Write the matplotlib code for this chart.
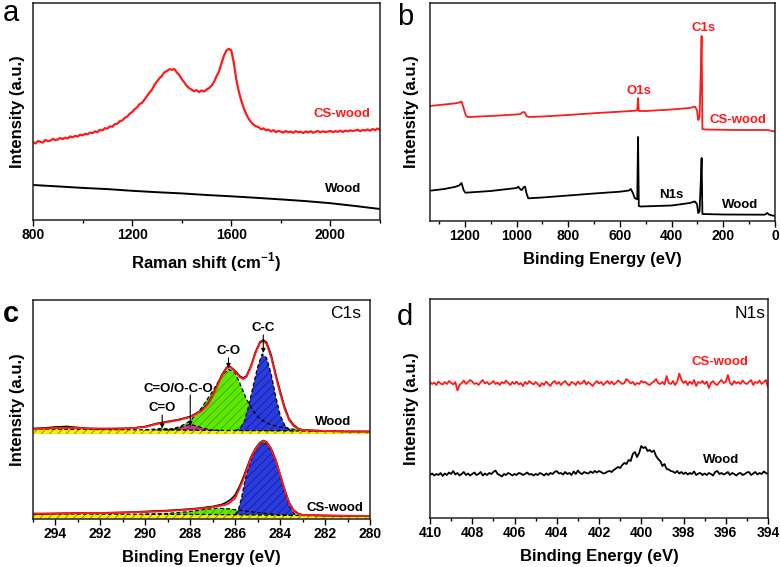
import numpy as np
import matplotlib.pyplot as plt
from matplotlib.ticker import MultipleLocator

plt.rcParams['font.family'] = ['Liberation Sans', 'DejaVu Sans']
plt.rcParams['font.weight'] = 'bold'
plt.rcParams['mathtext.fontset'] = 'custom'
plt.rcParams['mathtext.rm'] = 'Liberation Sans:bold'
plt.rcParams['mathtext.bf'] = 'Liberation Sans:bold'
plt.rcParams['hatch.linewidth'] = 0.5

RED = '#ff1a1a'

# ---------------- (a) Raman ----------------
raman_shift = np.arange(800, 2201, 10)
raman_cs_wood = [
    78.0, 76.5, 79.0, 78.2, 77.4, 80.1, 78.9, 79.3, 81.2, 79.8,
    80.6, 82.0, 80.9, 82.4, 81.5, 83.6, 82.7, 84.1, 83.4, 85.3,
    84.6, 86.2, 85.7, 87.4, 86.9, 88.6, 87.9, 90.2, 89.5, 91.8,
    91.4, 93.6, 93.2, 95.9, 96.3, 98.8, 99.5, 102.1, 103.4, 106.2,
    107.9, 110.8, 112.6, 115.9, 117.2, 120.4, 124.1, 127.5, 130.2, 135.1,
    138.4, 141.7, 144.2, 147.6, 148.9, 150.8, 150.2, 151.0, 147.6, 145.1,
    140.9, 137.8, 134.2, 131.9, 130.4, 128.7, 129.9, 127.8, 129.6, 128.4,
    130.5, 131.8, 134.2, 137.9, 143.6, 148.2, 156.4, 164.1, 169.3, 171.2,
    169.6, 157.5, 140.8, 128.9, 119.6, 112.0, 106.1, 101.3, 97.8, 95.4,
    93.6, 92.9, 90.8, 91.6, 89.7, 90.4, 88.6, 89.9, 87.8, 89.1,
    88.2, 87.4, 89.0, 87.6, 88.5, 87.2, 88.9, 87.7, 88.4, 86.9,
    88.6, 87.5, 88.8, 87.3, 88.1, 89.0, 87.6, 88.7, 87.9, 88.4,
    89.1, 87.8, 88.9, 88.2, 89.3, 88.0, 89.4, 88.6, 89.7, 88.9,
    89.5, 90.3, 88.8, 90.1, 89.4, 90.6, 89.2, 91.0, 89.8, 91.5,
    90.2,
]
raman_wood_x = [800, 900, 1000, 1100, 1200, 1300, 1400, 1500, 1600, 1700,
                1800, 1900, 2000, 2100, 2200]
raman_wood = [35.0, 33.6, 32.1, 30.9, 29.2, 27.8, 26.6, 25.0, 23.7, 22.2,
              20.6, 18.9, 16.8, 14.0, 11.0]

# ---------------- (b) XPS survey ----------------
survey_cs_x = [1335, 1280, 1240, 1222, 1213, 1205, 1197, 1190, 1100, 1000,
               985, 975, 968, 962, 955, 900, 800, 700, 600, 545,
               537, 533, 530, 527, 500, 400, 330, 310, 302, 297,
               292, 287, 284, 281, 270, 150, 30, 10, 0]
survey_cs = [115, 116.5, 117.5, 118.5, 119.5, 113, 106, 104, 105, 106.5,
             107, 109, 108.5, 105, 104, 104.5, 106, 107.8, 109.3, 110.2,
             110.5, 111, 123, 110, 110, 111.5, 113, 114.5, 111, 101,
             104, 150, 185, 92, 91.5, 91, 91, 90, 89.5]
survey_wood_x = [1335, 1280, 1240, 1222, 1213, 1205, 1198, 1100, 1000, 993,
                 985, 980, 972, 967, 962, 955, 900, 800, 700, 600,
                 565, 558, 550, 543, 536, 533, 530, 527, 520, 400,
                 330, 310, 302, 297, 292, 287, 284, 281, 200, 40,
                 30, 24, 10, 0]
survey_wood = [30.3, 32, 34, 35.5, 38, 31, 28.3, 30, 33, 34.3,
               31.5, 31, 34, 34.3, 28, 22.7, 23.5, 25.5, 27.5, 29.3,
               30.5, 32, 28, 23, 22, 22, 84, 15, 14.5, 15.5,
               18, 19.5, 17, 8, 9.5, 40, 63, 7, 6.5, 6.3,
               8, 6.5, 5.5, 5]

# ---------------- (c) C1s fitting ----------------
c1s_x = [295, 294.5, 294, 293.5, 293, 292.5, 292, 291, 290.5, 290,
         289.5, 289, 288.5, 288, 287.5, 287.2, 287, 286.8, 286.6, 286.4,
         286.3, 286.2, 286, 285.8, 285.65, 285.5, 285.3, 285.1, 284.9, 284.75,
         284.6, 284.4, 284.2, 284, 283.8, 283.6, 283.4, 283.2, 283, 282,
         281, 280]
c1s_wood_data = [90.5, 91, 92, 92.5, 91.5, 90.5, 90, 90.5, 91, 92.5,
                 95.5, 97.5, 99.5, 102.5, 108.5, 116, 124, 134, 144, 151,
                 153, 152, 148, 143, 141, 143, 153, 167, 177, 179,
                 176.5, 164, 145, 128, 112, 100, 94, 90.5, 89, 88,
                 87.5, 87.5]
c1s_wood_fit = [90, 90.5, 91, 91, 91, 90.5, 90.5, 90.5, 91, 92,
                95, 97, 99, 102, 108, 115, 123, 133, 143, 150,
                152.5, 151.5, 147, 142, 140, 142, 152, 166, 176, 178,
                175, 162, 143, 126, 110, 99, 93, 90, 89, 88,
                87.5, 87.5]
c1s_wood_base_x = [295, 292, 289, 286, 283, 280]
c1s_wood_base = [90, 89.5, 89, 88.5, 88, 87.5]
wood_cc_x = [286.0, 285.8, 285.6, 285.4, 285.2, 285.0, 284.8, 284.6, 284.4, 284.2,
             284.0, 283.8, 283.6, 283.4]
wood_cc = [88.5, 90, 97, 113, 133, 152, 165, 161, 145, 123,
           104, 94, 89.5, 88]
wood_co_x = [289.5, 289, 288.5, 288, 287.5, 287.0, 286.6, 286.3, 286.0, 285.8,
             285.5, 285.2, 284.9, 284.5, 284.0, 283.5, 283.0, 282.5]
wood_co = [89, 89.5, 92, 98, 111, 128, 143, 150, 146, 136,
           120, 108, 100, 95, 92, 90, 89, 88]
wood_oco_x = [289.0, 288.6, 288.3, 288.0, 287.7, 287.4, 287.0, 286.7]
wood_oco = [89, 90.5, 93, 94.5, 93, 90.5, 89, 88.5]
wood_c_o_x = [290.0, 289.6, 289.3, 289.0, 288.6]
wood_c_o = [89.2, 89.8, 90.6, 90.0, 89.0]

c1s_cs_data = [5, 5.2, 5.5, 5.7, 6, 6, 6, 6.5, 7, 7.5,
               8, 8.5, 9.2, 10, 11, 12, 12.5, 13.5, 14.5, 16.5,
               18, 19.5, 24, 33, 41, 50, 62, 70.5, 76.5, 78.5,
               77, 70.5, 59.5, 44.5, 29.5, 16.5, 9, 5.5, 4, 3.5,
               3, 3]
c1s_cs_fit = [5.5, 5.5, 5.5, 5.7, 5.8, 6, 6, 6.5, 6.8, 7,
              7.5, 8, 8.8, 9.5, 10.5, 11.3, 12, 12.8, 13.5, 14.5,
              15.5, 17, 21, 31, 39, 48, 61, 70, 76, 78,
              76.5, 70, 59, 44, 29, 16, 8.5, 5, 4, 3.5,
              3.2, 3]
c1s_cs_base_x = [295, 290, 287, 285, 283, 280]
c1s_cs_base = [5, 4.8, 4.5, 4, 3.5, 3]
cs_cc_x = [286.0, 285.86, 285.71, 285.56, 285.45, 285.34, 285.15, 284.95, 284.75, 284.55,
           284.35, 284.16, 284.0, 283.86, 283.7, 283.56, 283.4, 283.27]
cs_cc = [4.5, 9, 22, 39, 48, 56, 67, 74, 77, 74,
         66, 56, 42, 31, 20, 12, 6, 4]
cs_co_x = [290, 289, 288, 287.3, 286.8, 286.3, 285.8, 285.2, 284.6, 284.0, 283.5]
cs_co = [4.8, 5.6, 7.5, 9.8, 10.8, 10.2, 8.7, 7.0, 5.5, 4.2, 3.7]

# ---------------- (d) N1s ----------------
n1s_x = np.round(np.arange(410, 393.95, -0.1), 1)
n1s_cs_wood = [
    136, 134, 135.5, 133, 136.5, 134.5, 133.5, 136, 134, 137,
    135, 133.5, 136, 127.5, 133, 135, 137.5, 134, 136, 138,
    136.5, 134, 135, 133, 136, 138, 134.5, 136, 133.5, 135,
    137, 134, 135.5, 133, 136, 134.5, 137.5, 135, 133, 136,
    134, 136.5, 133.5, 135, 132, 136, 134, 137, 135, 133.5,
    136, 134, 131.5, 135, 133, 136.5, 134, 132, 135.5, 137,
    134, 136, 133, 135.5, 137, 134, 132.5, 136, 135, 133,
    136.5, 134, 135, 137.5, 133.5, 136, 134, 132, 135, 137,
    134.5, 136, 133, 135, 137, 134, 136.5, 133.5, 135, 137.5,
    136, 134, 135, 139, 137, 134.5, 136, 133, 135, 134,
    137, 135.5, 136, 134, 133, 135, 136.5, 139, 135, 134,
    136, 133.5, 142, 135, 134, 137, 133, 136, 144.5, 138,
    135, 137, 133, 136.5, 134, 138, 132, 136, 135, 137,
    134, 136.5, 130, 135, 137, 134, 133, 136, 138, 135,
    136, 143, 135, 133, 137, 134.5, 136, 134, 137.5, 135,
    134, 136, 138, 133, 136, 135, 137.5, 134, 136, 138,
    131,
]
n1s_wood = [
    43, 44.5, 42.5, 44, 43, 45, 42, 44.5, 43, 45.5,
    44, 47, 43.5, 45, 42.5, 44, 46, 43, 44.5, 42.5,
    44, 45.5, 43, 44, 46, 42.5, 44.5, 43, 45, 44,
    46, 47.5, 44, 43, 41.5, 44, 43, 45, 44, 42.5,
    44, 43, 45, 44.5, 43, 44, 45.5, 43.5, 44, 42.5,
    44, 43, 45, 44, 42.5, 44.5, 43, 45, 44, 46,
    47, 44.5, 45, 43.5, 46, 44, 45, 43, 46.5, 44,
    47.5, 45, 44, 46, 45, 44.5, 46.5, 45, 47, 45.5,
    47, 46, 44.5, 45, 46.5, 47, 46, 48, 49.5, 51,
    50, 53, 55, 54, 58, 57, 64, 66, 61, 65,
    72, 70, 71, 67, 68, 66, 67.5, 62, 59, 57,
    52, 54, 49, 48.5, 47, 46.5, 45, 47, 44.5, 46,
    44, 45.5, 43.5, 45, 44, 46.5, 43, 44.5, 45, 43,
    44.5, 43, 45, 44, 42.5, 46, 47, 44, 45, 43.5,
    44.5, 46, 43, 45, 44, 42.5, 44.5, 45, 43, 44,
    45.5, 46, 43, 44.5, 46, 43.5, 45, 44, 46.5, 45,
    44,
]


def box(l, t, r, b):
    return [l / 780, 1 - b / 567, (r - l) / 780, (b - t) / 567]


def style(ax, xlim, ylim, major, minor, xlabel, ylpad):
    ax.set_xlim(*xlim)
    ax.set_ylim(*ylim)
    ax.set_yticks([])
    ax.xaxis.set_major_locator(MultipleLocator(major))
    ax.xaxis.set_minor_locator(MultipleLocator(minor))
    ax.tick_params(axis='x', which='major', direction='out', length=4,
                   width=1, labelsize=10, pad=2)
    ax.tick_params(axis='x', which='minor', direction='out', length=2.5, width=1)
    for lab in ax.get_xticklabels():
        lab.set_fontweight('bold')
    for s in ax.spines.values():
        s.set_linewidth(1.1)
        s.set_color('#222222')
    ax.set_xlabel(xlabel, fontsize=12, fontweight='bold', labelpad=6)
    ax.set_ylabel('Intensity (a.u.)', fontsize=12, fontweight='bold', labelpad=ylpad)


fig = plt.figure(figsize=(7.8, 5.67), dpi=100)

# (a)
ax = fig.add_axes(box(33, 3, 380, 220))
ax.plot(raman_shift, raman_cs_wood, color=RED, lw=1.6)
ax.plot(raman_wood_x, raman_wood, color='black', lw=1.4)
ax.text(2045, 106, 'CS-wood', color=RED, fontsize=9.5, ha='center', va='center')
ax.text(2052, 31, 'Wood', color='black', fontsize=9.5, ha='center', va='center')
style(ax, (800, 2200), (0, 217), 400, 200, r'Raman shift (cm$^{\mathbf{-1}}$)', 6)

# (b)
ax = fig.add_axes(box(430, 3, 775, 221))
ax.plot(survey_cs_x, survey_cs, color=RED, lw=1.3)
ax.plot(survey_wood_x, survey_wood, color='black', lw=1.3)
ax.text(277, 193, 'C1s', color=RED, fontsize=9.5, ha='center', va='center')
ax.text(525, 130, 'O1s', color=RED, fontsize=9.5, ha='center', va='center')
ax.text(142, 101, 'CS-wood', color=RED, fontsize=9.5, ha='center', va='center')
ax.text(401, 26, 'N1s', color='black', fontsize=9.5, ha='center', va='center')
ax.text(135, 16, 'Wood', color='black', fontsize=9.5, ha='center', va='center')
style(ax, (1335, 0), (0, 218), 200, 100, 'Binding Energy (eV)', 8)

# (c)
ax = fig.add_axes(box(33, 300, 370, 519))
dash = dict(color='black', lw=0.9, ls=(0, (3, 2)))
for bx, by, lo in [(c1s_wood_base_x, c1s_wood_base, 85),
                   (c1s_cs_base_x, c1s_cs_base, 0.5)]:
    ax.fill_between(bx, lo, by, facecolor='#f4f000', edgecolor='#6a6a00',
                    hatch='////', linewidth=0)
comps = [
    (wood_co_x, wood_co, '#5ee800', '#3a9a00'),
    (wood_oco_x, wood_oco, '#c0407a', '#3030c0'),
    (wood_c_o_x, wood_c_o, '#9adf20', '#509000'),
    (wood_cc_x, wood_cc, '#2a3ce0', '#101a80'),
    (cs_co_x, cs_co, '#5ee800', '#3a9a00'),
    (cs_cc_x, cs_cc, '#2a3ce0', '#101a80'),
]
for cx, cy, fc, hc in comps:
    ax.fill(cx, cy, facecolor=fc, edgecolor=hc, hatch='////', linewidth=0)
    ax.plot(cx, cy, **dash)
ax.plot(c1s_wood_base_x, c1s_wood_base, **dash)
ax.plot(c1s_cs_base_x, c1s_cs_base, **dash)
ax.plot(c1s_x, c1s_wood_data, color='black', lw=1.2)
ax.plot(c1s_x, c1s_cs_data, color='black', lw=1.2)
ax.plot(c1s_x, c1s_wood_fit, color=RED, lw=1.4)
ax.plot(c1s_x, c1s_cs_fit, color=RED, lw=1.4)
arrow = dict(arrowstyle='-|>', color='black', lw=0.8, mutation_scale=6,
             shrinkA=0, shrinkB=0)
ax.annotate('', xy=(284.75, 166), xytext=(284.75, 184), arrowprops=arrow)
ax.annotate('', xy=(286.3, 151), xytext=(286.3, 161), arrowprops=arrow)
ax.annotate('', xy=(288.0, 93), xytext=(288.0, 124), arrowprops=arrow)
ax.annotate('', xy=(289.25, 90.5), xytext=(289.25, 104), arrowprops=arrow)
ax.text(284.75, 185, 'C-C', fontsize=9.5, ha='center', va='bottom')
ax.text(286.31, 162, 'C-O', fontsize=9.5, ha='center', va='bottom')
ax.text(288.53, 124.5, 'C=O/O-C-O', fontsize=9.5, ha='center', va='bottom')
ax.text(289.25, 105, 'C=O', fontsize=9.5, ha='center', va='bottom')
ax.text(281.63, 97, 'Wood', fontsize=9.5, ha='center', va='center')
ax.text(281.56, 11, 'CS-wood', fontsize=9.5, ha='center', va='center')
ax.text(281.1, 206, 'C1s', fontsize=12.5, fontweight='normal', ha='center', va='center')
style(ax, (295, 280), (0, 219), 2, 1, 'Binding Energy (eV)', 6)

# (d)
ax = fig.add_axes(box(430, 299, 768, 518))
ax.plot(n1s_x, n1s_cs_wood, color=RED, lw=1.3)
ax.plot(n1s_x, n1s_wood, color='black', lw=1.3)
ax.text(396.27, 156, 'CS-wood', color=RED, fontsize=9.5, ha='center', va='center')
ax.text(396.23, 58, 'Wood', color='black', fontsize=9.5, ha='center', va='center')
ax.text(394.85, 205, 'N1s', fontsize=12.5, fontweight='normal', ha='center', va='center')
style(ax, (410, 394), (0, 219), 2, 1, 'Binding Energy (eV)', 8)

# panel letters
fig.text(3 / 780, 1 - 21 / 567, 'a', fontsize=21, fontweight='normal', va='baseline')
fig.text(397 / 780, 1 - 25 / 567, 'b', fontsize=21, fontweight='normal', va='baseline')
fig.text(3 / 780, 1 - 322 / 567, 'c', fontsize=21, fontweight='bold', va='baseline')
fig.text(397 / 780, 1 - 325 / 567, 'd', fontsize=21, fontweight='normal', va='baseline')

fig.savefig('out.png', dpi=100)
